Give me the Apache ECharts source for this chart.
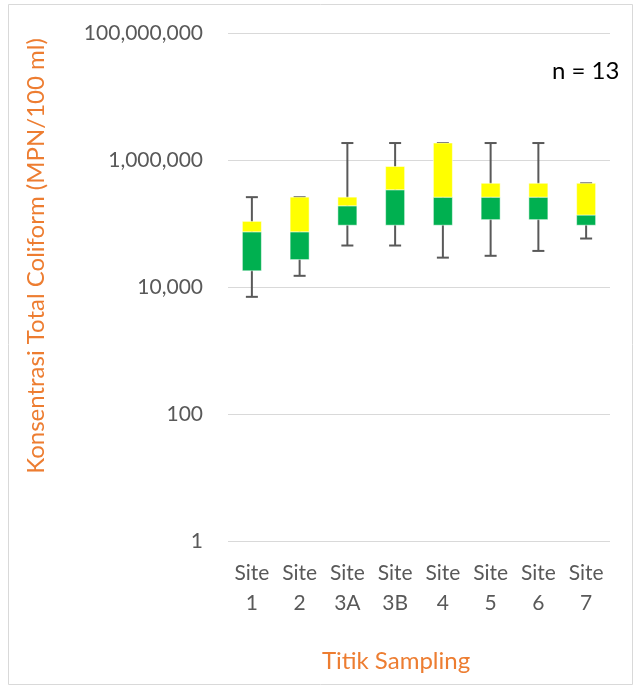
<!DOCTYPE html>
<html>
<head>
<meta charset="utf-8">
<script src="https://cdn.jsdelivr.net/npm/echarts@6/dist/echarts.min.js"></script>
<style>
  html, body { margin: 0; padding: 0; background: #fff; }
  #chart { width: 637px; height: 687px; }
</style>
</head>
<body>
<div id="chart"></div>
<script>
// categories and box values (MPN/100 ml)
const sites = ["Site 1", "Site 2", "Site 3A", "Site 3B", "Site 4", "Site 5", "Site 6", "Site 7"];
const minVals = [7000, 15000, 45000, 45000, 29000, 31000, 37000, 58000];
const q1Vals = [18000, 27000, 94000, 94000, 94000, 115000, 115000, 94000];
const medVals = [74000, 74000, 190000, 340000, 260000, 260000, 260000, 136000];
const q3Vals = [108000, 260000, 260000, 790000, 1850000, 430000, 430000, 430000];
const maxVals = [260000, 260000, 1850000, 1850000, 1850000, 1850000, 1850000, 430000];

const font = "Lato";
const chart = echarts.init(document.getElementById("chart"));

const boxData = sites.map((s, i) => [i, minVals[i], q1Vals[i], medVals[i], q3Vals[i], maxVals[i]]);

function renderBox(params, api) {
  const i = api.value(0);
  const pMin = api.coord([i, api.value(1)]);
  const pQ1 = api.coord([i, api.value(2)]);
  const pMed = api.coord([i, api.value(3)]);
  const pQ3 = api.coord([i, api.value(4)]);
  const pMax = api.coord([i, api.value(5)]);
  const x = pMin[0];
  const bw = 19, cw = 12;
  const line = { stroke: "#595959", lineWidth: 2 };
  return {
    type: "group",
    children: [
      { type: "line", shape: { x1: x, y1: pMax[1], x2: x, y2: pMin[1] }, style: line },
      { type: "line", shape: { x1: x - cw / 2, y1: pMax[1], x2: x + cw / 2, y2: pMax[1] }, style: line },
      { type: "line", shape: { x1: x - cw / 2, y1: pMin[1], x2: x + cw / 2, y2: pMin[1] }, style: line },
      { type: "rect", shape: { x: x - bw / 2, y: pMed[1], width: bw, height: pQ1[1] - pMed[1] },
        style: { fill: "#00B050", stroke: "#ffffff", lineWidth: 0.5 } },
      { type: "rect", shape: { x: x - bw / 2, y: pQ3[1], width: bw, height: pMed[1] - pQ3[1] },
        style: { fill: "#FFFF00", stroke: "#ffffff", lineWidth: 0.5 } }
    ]
  };
}

const option = {
  animation: false,
  backgroundColor: "#ffffff",
  grid: { left: 228, right: 27, top: 33, bottom: 146 },
  graphic: [
    { type: "rect", shape: { x: 8.5, y: 4.5, width: 624, height: 680 },
      style: { fill: "none", stroke: "#d9d9d9", lineWidth: 1 }, z: -1 },
    { type: "text", left: 552, top: 59,
      style: { text: "n = 13", font: "24px " + font, fill: "#000000" } }
  ],
  xAxis: {
    type: "category",
    data: sites,
    axisLine: { show: false },
    axisTick: { show: false },
    axisLabel: {
      color: "#595959", fontFamily: font, fontSize: 21, lineHeight: 30, margin: 17,
      formatter: v => v.replace(" ", "\n")
    },
    name: "Titik Sampling",
    nameLocation: "middle",
    nameGap: 108,
    nameTextStyle: { color: "#ED7D31", fontFamily: font, fontSize: 24, padding: [0, 46, 0, 0] }
  },
  yAxis: {
    type: "log",
    logBase: 100,
    min: 1,
    max: 100000000,
    axisLine: { show: false },
    axisTick: { show: false },
    splitLine: { show: true, lineStyle: { color: "#d9d9d9", width: 1 } },
    axisLabel: {
      color: "#595959", fontFamily: font, fontSize: 21, margin: 25,
      formatter: v => Math.round(v).toLocaleString("en-US")
    },
    name: "Konsentrasi Total Coliform (MPN/100 ml)",
    nameLocation: "middle",
    nameGap: 180,
    nameTextStyle: { color: "#ED7D31", fontFamily: font, fontSize: 24, padding: [0, 0, 0, 62] }
  },
  series: [{
    type: "custom",
    renderItem: renderBox,
    data: boxData,
    encode: { x: 0, y: [1, 2, 3, 4, 5] },
    z: 5
  }]
};

chart.setOption(option);
</script>
</body>
</html>
